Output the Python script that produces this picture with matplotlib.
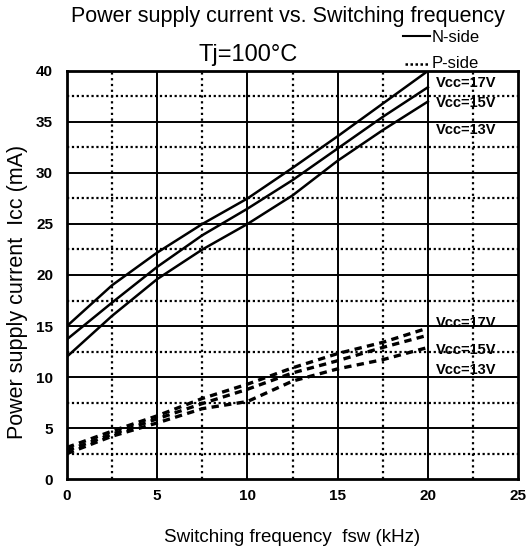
import numpy as np
import matplotlib
matplotlib.use("Agg")
import matplotlib.pyplot as plt
from matplotlib.lines import Line2D

plt.rcParams['font.family'] = ['Liberation Sans', 'DejaVu Sans']

# switching frequency (kHz)
fsw = [0, 2.5, 5, 7.5, 10, 12.5, 15, 17.5, 20]

# N-side supply current (mA)
n_17v = [15.0, 19.0, 22.2, 25.0, 27.5, 30.5, 33.6, 36.8, 40.0]
n_15v = [13.7, 17.3, 20.8, 23.9, 26.5, 29.3, 32.4, 35.5, 38.4]
n_13v = [12.0, 16.0, 19.6, 22.5, 25.0, 27.8, 31.2, 34.2, 37.0]

# P-side supply current (mA)
p_17v = [3.1, 4.7, 6.2, 7.9, 9.3, 10.9, 12.3, 13.4, 14.8]
p_15v = [2.8, 4.4, 5.9, 7.4, 8.8, 10.4, 11.6, 12.9, 14.1]
p_13v = [2.5, 4.2, 5.5, 6.9, 7.6, 9.6, 10.8, 11.7, 12.9]

labels = ["Vcc=17V", "Vcc=15V", "Vcc=13V"]
n_label_y = [38.8, 36.9, 34.2]
p_label_y = [15.3, 12.6, 10.7]

fig = plt.figure(figsize=(5.26, 5.50), dpi=100)
ax = fig.add_axes([0.1274, 0.129, 0.8576, 0.742])

# grid: solid every 5, dotted every 2.5
for v in np.arange(5, 25, 5):
    ax.axvline(v, color='k', lw=1.4, zorder=1)
for v in np.arange(2.5, 25, 5):
    ax.axvline(v, color='k', lw=1.6, ls=(0, (1, 1.6)), zorder=1)
for v in np.arange(5, 40, 5):
    ax.axhline(v, color='k', lw=1.4, zorder=1)
for v in np.arange(2.5, 40, 5):
    ax.axhline(v, color='k', lw=1.6, ls=(0, (1, 1.2)), zorder=1)

for y in (n_17v, n_15v, n_13v):
    ax.plot(fsw, y, color='k', lw=1.8, zorder=3)
for y in (p_17v, p_15v, p_13v):
    ax.plot(fsw, y, color='k', lw=2.4, ls=(0, (2.2, 1.6)), zorder=3)

for lab, y in zip(labels, n_label_y):
    ax.text(20.45, y, lab, fontsize=10.5, fontweight='bold', va='center', ha='left', zorder=4)
for lab, y in zip(labels, p_label_y):
    ax.text(20.45, y, lab, fontsize=10.5, fontweight='bold', va='center', ha='left', zorder=4)

ax.set_xlim(0, 25)
ax.set_ylim(0, 40)
ax.set_xticks(np.arange(0, 26, 5))
ax.set_yticks(np.arange(0, 41, 5))
ax.tick_params(axis='y', length=0, labelsize=11, pad=10)
ax.tick_params(axis='x', length=0, labelsize=11, pad=7)
for t in ax.get_xticklabels() + ax.get_yticklabels():
    t.set_fontweight('bold')
for s in ax.spines.values():
    s.set_linewidth(2)

fig.text(0.556, 1 - 537 / 550, "Switching frequency  fsw (kHz)",
         fontsize=13.5, ha='center', va='center')
fig.text(18 / 526, 0.5 - 17 / 550, "Power supply current  Icc (mA)",
         fontsize=15.5, ha='center', va='center', rotation=90)

fig.text(0.5466, 1 - 22 / 550, "Power supply current vs. Switching frequency",
         fontsize=15.5, ha='center', va='baseline')
fig.text(248 / 526, 1 - 55 / 550, "Tj=100°C", fontsize=17,
         ha='center', va='center')

# legend for line style
fig.add_artist(Line2D([403 / 526, 430 / 526], [1 - 36 / 550, 1 - 36 / 550],
                      color='k', lw=1.5))
fig.add_artist(Line2D([405 / 526, 430 / 526], [1 - 64 / 550, 1 - 64 / 550],
                      color='k', lw=1.8, ls=(0, (1, 1))))
fig.text(432 / 526, 1 - 37 / 550, "N-side", fontsize=12, va='center')
fig.text(432 / 526, 1 - 63 / 550, "P-side", fontsize=12, va='center')

fig.savefig('out.png', dpi=100)
